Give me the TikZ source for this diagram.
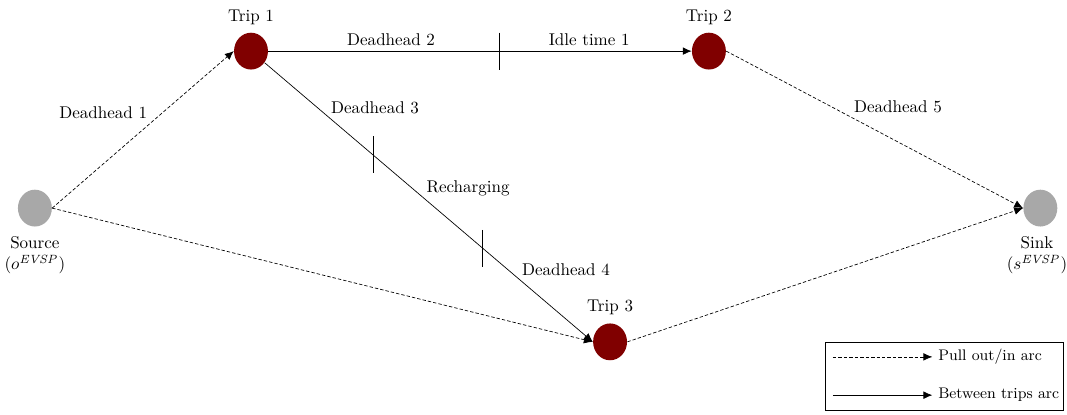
\documentclass[tikz,border=0pt]{standalone}
\usepackage{amsmath,amssymb}
\usepackage{tikz}
\usetikzlibrary{
	shapes,
	calc,
	arrows.meta}

\definecolor{tripred}{RGB}{128,0,0}
\definecolor{depotgray}{RGB}{168,168,168}
\tikzset{
	trip/.style={ellipse, fill=tripred, minimum width=0.7cm, minimum height=0.76cm, inner sep=0pt},
	depot/.style={ellipse, fill=depotgray, minimum width=0.7cm, minimum height=0.76cm, inner sep=0pt},
	pullarc/.style={->, dash pattern=on 2pt off 1.2pt},
	betweenarc/.style={->},
	cutmark/.style={line width=0.5pt},
	legendtext/.style={anchor=west, font=\small}}

\begin{document}
\begin{tikzpicture}[>={Latex[length=5.2pt,width=4.5pt]}]
      \useasboundingbox (0,0) rectangle (22.02,8.545);

      \node[depot] (SRC) at (0.72,4.25) {};
      \node (SRCl) at (0.72,3.28) [align=center] {Source\\$(o^{\mathit{EVSP}})$};

      \node[trip] (T1) at (5.18,7.49) {};
      \node (T1l) at (5.18,8.19) {Trip 1};

      \node[trip] (T2) at (14.63,7.49) {};
      \node (T2l) at (14.63,8.19) {Trip 2};

      \node[trip] (T3) at (12.59,1.49) {};
      \node (T3l) at (12.59,2.21) {Trip 3};

      \node[depot] (SNK) at (21.47,4.25) {};
      \node (SNKl) at (21.40,3.28) [align=center] {Sink\\$(s^{\mathit{EVSP}})$};

      \node (DH1) at (2.13,6.21) {Deadhead 1};
      \node (DH2) at (8.07,7.72) {Deadhead 2};
      \node (IT1) at (12.16,7.72) {Idle time 1};
      \node (DH3) at (7.74,6.32) {Deadhead 3};
      \node (RC)  at (9.66,4.66) {Recharging};
      \node (DH4) at (11.68,2.97) {Deadhead 4};
      \node (DH5) at (18.53,6.34) {Deadhead 5};

      \draw [pullarc]    (SRC.east) to (T1.west);
      \draw [pullarc]    (SRC.east) to (T3.west);
      \draw [betweenarc] (T1)       to (T2);
      \draw [betweenarc] (T1)       to (T3.west);
      \draw [pullarc]    (T2.east)  to (SNK.west);
      \draw [pullarc]    (T3.east)  to (SNK.west);

      % split marks on the arcs
      \coordinate (M1) at ($(T1)!0.542!(T2)$);
      \coordinate (M2) at ($(T1)!0.357!(T3.west)$);
      \coordinate (M3) at ($(T1)!0.678!(T3.west)$);
      \foreach \m in {M1,M2,M3}
        \draw [cutmark] ($(\m)+(0,0.38)$) -- ($(\m)-(0,0.38)$);

      % legend
      \draw (17.03,0.08) rectangle (21.94,1.49);
      \node[legendtext] (LPO) at (19.24,1.18) {Pull out/in arc};
      \node[legendtext] (LBT) at (19.24,0.39) {Between trips arc};
      \coordinate (LPOs) at (17.19,1.18);
      \coordinate (LBTs) at (17.19,0.39);
      \draw [pullarc]    (LPOs)     to (LPO);
      \draw [betweenarc] (LBTs)     to (LBT);
  \end{tikzpicture}
\end{document}
